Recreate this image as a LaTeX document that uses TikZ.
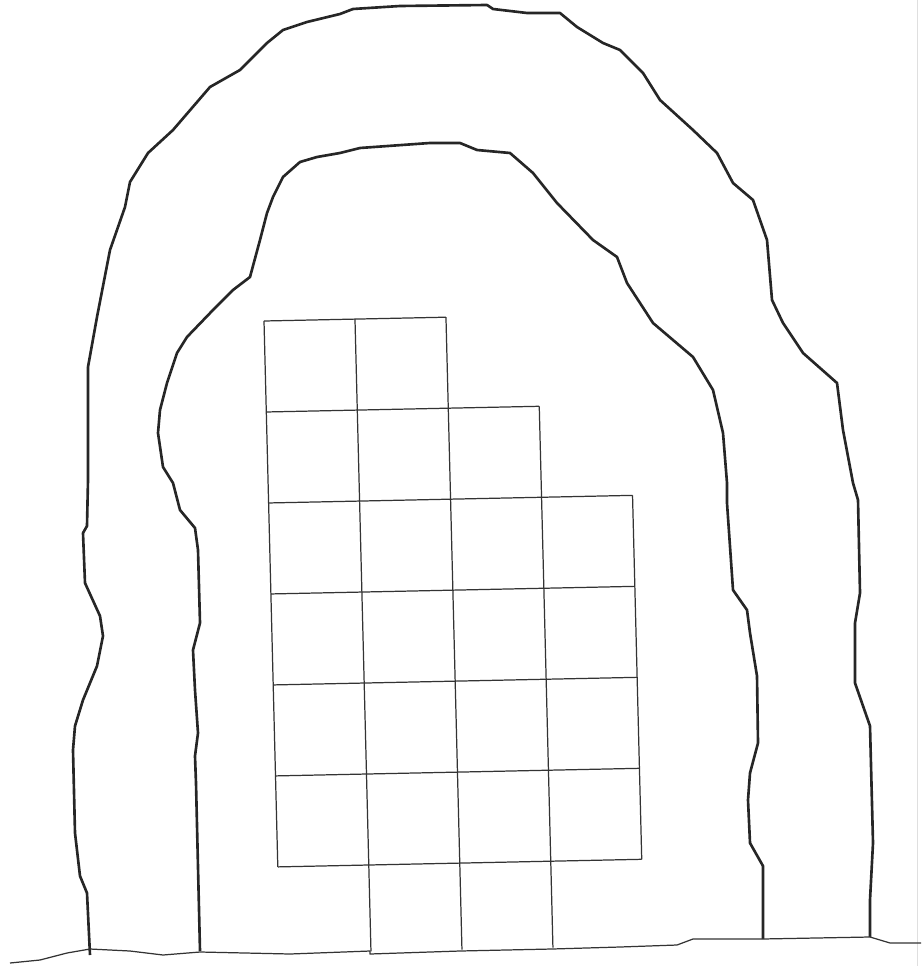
\documentclass[tikz,border=0pt]{standalone}
\begin{document}
\begin{tikzpicture}[x={(0.02cm,0)},y={(0,-0.02cm)},
  archline/.style={line width=1.5pt,line join=round,black!85},
  gridline/.style={line width=0.7pt,black!80},
  groundline/.style={line width=0.7pt,line join=round,black!80}]
  \useasboundingbox (0,0) rectangle (921,966);
  \draw[gray!25,line width=0.4pt] (917,0) -- (917,966);
  \draw[archline] (90,955) -- (87,893) -- (80,876) -- (75,833) -- (73,750) -- (75,726) -- (83,700)
    -- (97,666) -- (103,636) -- (100,616) -- (85,583) -- (83,533) -- (87,526) -- (88,480) -- (88,367)
    -- (97,317) -- (110,250) -- (125,207) -- (130,182) -- (148,153) -- (173,130) -- (210,87)
    -- (240,70) -- (267,43) -- (283,30) -- (307,22) -- (340,14) -- (353,9) -- (400,6) -- (487,5)
    -- (493,9) -- (527,13) -- (560,13) -- (577,27) -- (603,43) -- (620,50) -- (643,73) -- (660,100)
    -- (693,130) -- (717,153) -- (733,183) -- (753,200) -- (767,240) -- (772,300) -- (783,323)
    -- (803,353) -- (837,383) -- (843,430) -- (853,483) -- (858,500) -- (860,593) -- (855,623)
    -- (855,683) -- (870,726) -- (873,843) -- (870,900) -- (870,937);
  \draw[archline] (200,951) -- (196,783) -- (195,756) -- (198,733) -- (195,690) -- (193,650)
    -- (200,623) -- (198,550) -- (195,528) -- (180,510) -- (173,483) -- (163,467) -- (158,433)
    -- (160,410) -- (167,383) -- (177,353) -- (187,337) -- (213,310) -- (233,290) -- (250,277)
    -- (260,240) -- (267,213) -- (273,197) -- (283,177) -- (300,162) -- (317,157) -- (340,153)
    -- (360,148) -- (430,143) -- (460,143) -- (477,150) -- (510,153) -- (533,173) -- (557,203)
    -- (593,240) -- (617,257) -- (627,283) -- (653,323) -- (693,357) -- (713,390) -- (723,433)
    -- (727,483) -- (727,503) -- (733,590) -- (747,610) -- (750,633) -- (757,676) -- (758,743)
    -- (750,773) -- (748,800) -- (750,843) -- (763,866) -- (763,939);
  \draw[groundline] (10,963) -- (40,960) -- (67,953) -- (90,949) -- (130,951) -- (163,955)
    -- (200,952) -- (290,954) -- (370,951) -- (370,954) -- (460,951) -- (552,949) -- (620,947)
    -- (677,945) -- (693,939) -- (762,939) -- (870,937) -- (890,943) -- (921,943);
  \begin{scope}[shift={(264,321)},x={(1.82cm,0.038cm)},y={(0.046cm,-1.82cm)}]
    \foreach \j/\a/\b in {0/0/2,1/0/3,2/0/4,3/0/4,4/0/4,5/0/4,6/0/4}
      \draw[gridline] (\a,\j) -- (\b,\j);
    \foreach \i/\a/\b in {0/0/6,1/0/6.95,2/0/6.95,3/1/6.95,4/2/6}
      \draw[gridline] (\i,\a) -- (\i,\b);
  \end{scope}
\end{tikzpicture}
\end{document}
